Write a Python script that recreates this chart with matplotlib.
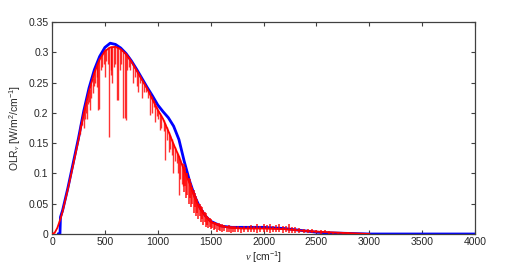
import matplotlib
matplotlib.use("Agg")
import matplotlib.pyplot as plt

plt.rcParams['font.family'] = ['Liberation Sans', 'DejaVu Sans']
plt.rcParams['mathtext.fontset'] = 'custom'
plt.rcParams['mathtext.rm'] = 'Liberation Sans'
plt.rcParams['mathtext.it'] = 'Liberation Serif:italic'

# Blue spectrum (cm^-1, W/m^2/cm^-1)
blue_nu = [60, 75, 80, 100, 150, 200, 250, 300, 350, 400, 450, 500, 550, 600, 650,
           700, 750, 800, 850, 900, 950, 1000, 1050, 1100, 1150, 1200, 1250, 1300,
           1350, 1400, 1450, 1500, 1600, 1700, 1800, 1900, 2000, 2100, 2200, 2300,
           2400, 2500, 2600, 2800, 3000, 4000]
blue_olr = [0.0, 0.0, 0.028, 0.039, 0.076, 0.117, 0.158, 0.203, 0.241, 0.271, 0.293,
            0.308, 0.315, 0.313, 0.307, 0.298, 0.286, 0.272, 0.257, 0.242, 0.228,
            0.213, 0.202, 0.192, 0.178, 0.156, 0.12, 0.088, 0.062, 0.043, 0.03, 0.021,
            0.013, 0.011, 0.011, 0.011, 0.011, 0.01, 0.009, 0.007, 0.005, 0.003,
            0.002, 0.001, 0.0, 0.0]

# Red spectrum smooth envelope
red_nu = [0, 25, 50, 80, 100, 150, 200, 250, 300, 350, 400, 450, 500, 550, 600, 650,
          700, 750, 800, 850, 900, 950, 1000, 1050, 1100, 1150, 1200, 1250, 1300,
          1350, 1400, 1450, 1500, 1600, 1700, 1800, 1900, 2000, 2200, 2400, 2600,
          2800, 3000]
red_olr = [0.0, 0.002, 0.01, 0.025, 0.037, 0.074, 0.114, 0.155, 0.199, 0.236, 0.266,
           0.288, 0.302, 0.308, 0.309, 0.305, 0.297, 0.285, 0.27, 0.255, 0.24, 0.222,
           0.205, 0.19, 0.17, 0.148, 0.128, 0.105, 0.084, 0.06, 0.042, 0.03, 0.02,
           0.013, 0.01, 0.009, 0.009, 0.009, 0.008, 0.005, 0.003, 0.0015, 0.0]

# Red absorption lines: position, lower end, upper end
dip_nu = [265, 280, 298, 312, 320, 328, 340, 353, 359, 370, 385, 395, 410, 422, 430,
          438, 448, 460, 475, 490, 501, 515, 530, 542, 555, 562, 570, 585, 600, 618,
          627, 640, 655, 675, 690, 697, 710, 725, 740, 769, 785, 806, 817, 830, 848,
          870, 890, 910, 927, 943, 960, 974, 990, 1005, 1021, 1035, 1055, 1069, 1085,
          1107, 1120, 1135, 1147, 1160, 1179, 1190, 1201, 1210, 1225, 1240]
dip_lo = [0.165, 0.18, 0.175, 0.19, 0.2, 0.19, 0.215, 0.218, 0.205, 0.225, 0.232,
          0.245, 0.25, 0.243, 0.26, 0.205, 0.207, 0.27, 0.275, 0.28, 0.26, 0.285,
          0.28, 0.16, 0.27, 0.262, 0.25, 0.275, 0.28, 0.221, 0.221, 0.27, 0.28,
          0.192, 0.192, 0.188, 0.27, 0.275, 0.27, 0.249, 0.26, 0.245, 0.235, 0.25,
          0.224, 0.235, 0.235, 0.225, 0.197, 0.2, 0.21, 0.185, 0.195, 0.19, 0.172,
          0.175, 0.17, 0.122, 0.155, 0.135, 0.14, 0.13, 0.1, 0.12, 0.118, 0.1, 0.065,
          0.09, 0.083, 0.08]
dip_hi = [0.18, 0.19, 0.2, 0.21, 0.215, 0.22, 0.23, 0.236, 0.24, 0.248, 0.258, 0.265,
          0.272, 0.28, 0.283, 0.286, 0.29, 0.293, 0.297, 0.3, 0.305, 0.306, 0.308,
          0.308, 0.309, 0.31, 0.31, 0.31, 0.309, 0.309, 0.308, 0.306, 0.304, 0.3,
          0.298, 0.297, 0.295, 0.292, 0.288, 0.28, 0.275, 0.27, 0.267, 0.262, 0.255,
          0.249, 0.243, 0.237, 0.235, 0.228, 0.222, 0.217, 0.21, 0.205, 0.2, 0.196,
          0.188, 0.184, 0.177, 0.168, 0.163, 0.157, 0.15, 0.144, 0.136, 0.132, 0.128,
          0.124, 0.118, 0.11]

# Red noise band in the wings: position, lower end, upper end
noise_nu = [1245, 1257, 1268, 1280, 1292, 1303, 1315, 1327, 1338, 1350, 1362, 1373,
            1385, 1397, 1408, 1420, 1432, 1443, 1455, 1467, 1478, 1490, 1502, 1515,
            1530, 1545, 1560, 1575, 1590, 1610, 1630, 1650, 1670, 1690, 1710, 1730,
            1760, 1790, 1820, 1850, 1880, 1910, 1940, 1970, 2000, 2030, 2060, 2090,
            2120, 2150, 2180, 2210, 2240, 2270, 2300, 2340, 2380, 2420, 2460, 2500,
            2540, 2580, 2620, 2660, 2700, 2750, 2800]
noise_lo = [0.07, 0.08, 0.06, 0.065, 0.05, 0.06, 0.045, 0.05, 0.035, 0.045, 0.03,
            0.035, 0.025, 0.03, 0.02, 0.025, 0.015, 0.02, 0.012, 0.015, 0.01, 0.012,
            0.008, 0.01, 0.006, 0.008, 0.004, 0.006, 0.005, 0.004, 0.005, 0.003,
            0.004, 0.002, 0.004, 0.003, 0.004, 0.002, 0.004, 0.003, 0.004, 0.003,
            0.002, 0.004, 0.003, 0.004, 0.002, 0.004, 0.003, 0.003, 0.002, 0.003,
            0.002, 0.002, 0.002, 0.001, 0.002, 0.001, 0.001, 0.001, 0.0005, 0.001,
            0.0005, 0.0005, 0.0003, 0.0003, 0.0002]
noise_hi = [0.115, 0.11, 0.1, 0.1, 0.092, 0.09, 0.085, 0.078, 0.072, 0.068, 0.062,
            0.058, 0.052, 0.05, 0.046, 0.044, 0.04, 0.036, 0.034, 0.03, 0.028, 0.026,
            0.024, 0.022, 0.02, 0.019, 0.018, 0.018, 0.016, 0.016, 0.015, 0.014,
            0.015, 0.013, 0.014, 0.013, 0.014, 0.012, 0.013, 0.014, 0.015, 0.013,
            0.016, 0.014, 0.017, 0.015, 0.016, 0.014, 0.015, 0.016, 0.013, 0.014,
            0.017, 0.012, 0.011, 0.01, 0.009, 0.008, 0.008, 0.007, 0.006, 0.006,
            0.005, 0.004, 0.004, 0.003, 0.003]

fig = plt.figure(figsize=(5.27, 2.67), dpi=100)
ax = fig.add_axes([0.0987, 0.1236, 0.8027, 0.794])

ax.plot(blue_nu, blue_olr, color=(0, 0, 1), lw=2.0, zorder=2)
ax.plot(red_nu, red_olr, color=(1, 0, 0), lw=1.3, zorder=3)
ax.vlines(dip_nu, dip_lo, dip_hi, color=(1, 0, 0), lw=1.0, alpha=0.8, zorder=3)
ax.vlines(noise_nu, noise_lo, noise_hi, color=(1, 0, 0), lw=1.2, alpha=0.85, zorder=3)

ax.set_xlim(0, 4000)
ax.set_ylim(0, 0.35)
ax.set_xticks(range(0, 4001, 500))
ax.set_yticks([0, 0.05, 0.1, 0.15, 0.2, 0.25, 0.3, 0.35])
ax.set_yticklabels(['0', '0.05', '0.1', '0.15', '0.2', '0.25', '0.3', '0.35'])

gc = (0.25, 0.25, 0.25)
for s in ax.spines.values():
    s.set_color(gc)
    s.set_linewidth(0.9)
ax.tick_params(direction='in', top=True, right=True, length=3, width=0.8,
               color=gc, labelcolor=(0.15, 0.15, 0.15), labelsize=7.5, pad=2.5)

ax.set_xlabel(r'$\mathit{\nu}$ [cm$^{-1}$]', fontsize=7.5, color=(0.15, 0.15, 0.15), labelpad=2)
ax.set_ylabel(r'OLR$_{\mathit{\nu}}$ [W/m$^{2}$/cm$^{-1}$]', fontsize=7.5,
              color=(0.15, 0.15, 0.15), labelpad=4)

fig.savefig('out.png', dpi=100)
